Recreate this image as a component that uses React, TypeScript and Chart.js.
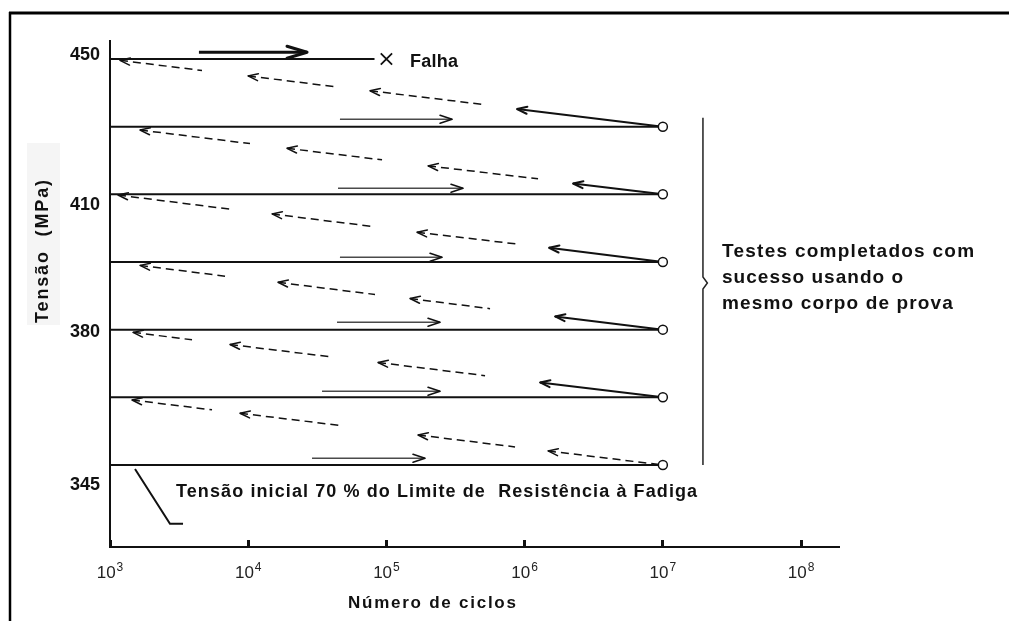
import React, { useEffect, useRef } from 'react';
import { Chart, registerables } from 'chart.js';

Chart.register(...registerables);

const FONT = '"Liberation Sans", Arial, Helvetica, sans-serif';
const INK = '#111111';

// Load steps, numbered from the initial stress level (0) up to the failure level (6)
const stepLevels = [0, 1, 2, 3, 4, 5, 6];
const startCycles = 1e3;
const runOutCycles = 1e7;
const failureCycles = 1e5;
const failureLineEnd = 8.2e4;

// Stress labels on the vertical axis (MPa) and the step position of each label
const stressLabels = [345, 380, 410, 450];
const stressLabelSteps = [-0.3, 1.97, 3.84, 6.06];

// Decades on the cycles axis
const cycleTicks = [1e3, 1e4, 1e5, 1e6, 1e7, 1e8];

// Loading arrows drawn just above each level (level 0 first)
const loadArrowFrom = [28950, 34200, 43900, 46100, 44640, 46100, 4400];
const loadArrowTo = [190200, 244300, 244300, 252600, 358300, 298500, 26640];
const loadArrowStep = [0.1, 1.09, 2.11, 3.07, 4.09, 5.11, 6.1];

// Return paths from the run-out at one level back to the start of the next one,
// as [cycles, step] points, two points per arrow segment
const returnFrom0 = [[1443, 0.96], [5471, 0.815], [8723, 0.765], [46160, 0.584], [169300, 0.443], [852000, 0.267], [1476000, 0.208], [1e7, 0]];
const returnFrom1 = [[1467, 1.96], [3920, 1.85], [7385, 1.78], [39080, 1.6], [86960, 1.515], [517000, 1.32], [1293000, 1.22], [1e7, 1]];
const returnFrom2 = [[1649, 2.95], [6795, 2.79], [16430, 2.7], [82700, 2.52], [148200, 2.46], [561800, 2.31], [1660000, 2.195], [1e7, 2]];
const returnFrom3 = [[1143, 3.99], [7385, 3.78], [14870, 3.71], [82700, 3.52], [166500, 3.44], [926000, 3.26], [1502000, 3.21], [1e7, 3]];
const returnFrom4 = [[1649, 4.95], [10300, 4.75], [19090, 4.68], [92950, 4.51], [200000, 4.42], [1250000, 4.23], [2240000, 4.16], [1e7, 4]];
const returnFrom5 = [[1181, 5.98], [4632, 5.83], [9968, 5.75], [42480, 5.59], [76080, 5.53], [491700, 5.33], [881000, 5.26], [1e7, 5]];
const returnPaths = [returnFrom0, returnFrom1, returnFrom2, returnFrom3, returnFrom4, returnFrom5];
// The segment next to the run-out circle is drawn solid on these paths
const solidLastSegment = [false, true, true, true, true, true];

// Bracket grouping the successful run-outs
const bracketCycles = [1.95e7, 1.95e7, 2.1e7, 1.95e7, 1.95e7];
const bracketSteps = [5.13, 2.78, 2.69, 2.6, 0];

// Leader line for the initial stress note
const leaderCycles = [1517, 2716, 3376];
const leaderSteps = [-0.06, -0.87, -0.87];

function spacedText(ctx: CanvasRenderingContext2D, text: string, x: number, y: number, width: number, font: string) {
  const c = ctx as any;
  ctx.font = font;
  c.letterSpacing = '0px';
  const n = Array.from(text).length;
  const w = ctx.measureText(text).width;
  const sp = n > 1 ? (width - w) / (n - 1) : 0;
  c.letterSpacing = `${sp.toFixed(2)}px`;
  ctx.textAlign = 'left';
  ctx.fillText(text, x, y);
  c.letterSpacing = '0px';
}

const arrowHeads = {
  id: 'arrowHeads',
  afterDatasetsDraw(chart: any) {
    const ctx: CanvasRenderingContext2D = chart.ctx;
    chart.data.datasets.forEach((ds: any, i: number) => {
      if (!ds.arrowAt) return;
      const pts = chart.getDatasetMeta(i).data;
      const tip = ds.arrowAt === 'end' ? pts[pts.length - 1] : pts[0];
      const from = ds.arrowAt === 'end' ? pts[pts.length - 2] : pts[1];
      const ang = Math.atan2(tip.y - from.y, tip.x - from.x);
      const L = ds.arrowLen;
      const H = ds.arrowHalf;
      const bx = tip.x - L * Math.cos(ang);
      const by = tip.y - L * Math.sin(ang);
      const nx = -Math.sin(ang) * H;
      const ny = Math.cos(ang) * H;
      ctx.save();
      ctx.strokeStyle = ds.arrowColor || ds.borderColor;
      ctx.lineWidth = ds.borderWidth;
      ctx.setLineDash([]);
      ctx.lineCap = 'round';
      ctx.lineJoin = 'round';
      ctx.beginPath();
      ctx.moveTo(bx + nx, by + ny);
      ctx.lineTo(tip.x, tip.y);
      ctx.lineTo(bx - nx, by - ny);
      ctx.stroke();
      ctx.restore();
    });
  },
};

const decorations = {
  id: 'decorations',
  beforeDraw(chart: any) {
    const ctx: CanvasRenderingContext2D = chart.ctx;
    ctx.save();
    ctx.fillStyle = '#ffffff';
    ctx.fillRect(0, 0, chart.width, chart.height);
    // frame
    ctx.strokeStyle = '#000';
    ctx.lineWidth = 3;
    ctx.beginPath();
    ctx.moveTo(9, 13);
    ctx.lineTo(chart.width, 13);
    ctx.stroke();
    ctx.lineWidth = 2.5;
    ctx.beginPath();
    ctx.moveTo(10, 12);
    ctx.lineTo(10, chart.height);
    ctx.stroke();
    // pale band behind the vertical title
    ctx.fillStyle = '#f5f5f5';
    ctx.fillRect(27, 143, 33, 182);
    ctx.restore();
  },
  afterDraw(chart: any) {
    const ctx: CanvasRenderingContext2D = chart.ctx;
    const xs = chart.scales.x;
    ctx.save();
    ctx.fillStyle = INK;
    ctx.textBaseline = 'alphabetic';

    // decade labels 10^n
    cycleTicks.forEach((v) => {
      const px = xs.getPixelForValue(v);
      const exp = String(Math.round(Math.log10(v)));
      ctx.font = `17px ${FONT}`;
      const wBase = ctx.measureText('10').width;
      ctx.font = `12px ${FONT}`;
      const wExp = ctx.measureText(exp).width;
      const left = px - (wBase + wExp + 1) / 2;
      ctx.fillStyle = '#222';
      ctx.textAlign = 'left';
      ctx.font = `17px ${FONT}`;
      ctx.fillText('10', left, 578);
      ctx.font = `12px ${FONT}`;
      ctx.fillText(exp, left + wBase + 1, 571);
    });

    ctx.fillStyle = INK;
    // axis titles
    spacedText(ctx, 'Número de ciclos', 348, 608, 168, `bold 17px ${FONT}`);
    ctx.save();
    ctx.translate(48, 251.5);
    ctx.rotate(-Math.PI / 2);
    spacedText(ctx, 'Tensão  (MPa)', -71.5, 0, 143, `bold 18px ${FONT}`);
    ctx.restore();

    // notes
    spacedText(ctx, 'Falha', 410, 67, 48, `bold 18px ${FONT}`);
    spacedText(ctx, 'Testes completados com', 722, 257, 252, `bold 19px ${FONT}`);
    spacedText(ctx, 'sucesso usando o', 722, 283, 181, `bold 19px ${FONT}`);
    spacedText(ctx, 'mesmo corpo de prova', 722, 309, 231, `bold 19px ${FONT}`);
    spacedText(ctx, 'Tensão inicial 70 % do Limite de  Resistência à Fadiga', 176, 497, 521, `bold 18px ${FONT}`);
    ctx.restore();
  },
};

function buildDatasets() {
  const datasets: any[] = [];
  const line = { pointRadius: 0, pointHoverRadius: 0, fill: false, tension: 0 };

  // run-out circles at 10^7 cycles
  datasets.push({
    data: stepLevels.slice(0, 6).map((s) => ({ x: runOutCycles, y: s })),
    showLine: false,
    pointRadius: 4.5,
    pointHoverRadius: 4.5,
    pointBackgroundColor: '#ffffff',
    pointBorderColor: INK,
    pointBorderWidth: 1.5,
    order: -2,
  });
  // failure mark
  datasets.push({
    data: [{ x: failureCycles, y: 6 }],
    showLine: false,
    pointStyle: 'crossRot',
    pointRadius: 8,
    pointHoverRadius: 8,
    pointBorderColor: INK,
    pointBorderWidth: 1.8,
    order: -2,
  });
  // constant-stress runs at each level
  stepLevels.forEach((s) => {
    datasets.push({
      ...line,
      data: [{ x: startCycles, y: s }, { x: s === 6 ? failureLineEnd : runOutCycles, y: s }],
      borderColor: INK,
      borderWidth: 2,
    });
  });
  // loading arrows
  loadArrowStep.forEach((s, i) => {
    const heavy = i === loadArrowStep.length - 1;
    datasets.push({
      ...line,
      data: [{ x: loadArrowFrom[i], y: s }, { x: loadArrowTo[i], y: s }],
      borderColor: heavy ? INK : '#4a4a4a',
      arrowColor: INK,
      borderWidth: heavy ? 3 : 1.6,
      arrowAt: 'end',
      arrowLen: heavy ? 20 : 12,
      arrowHalf: heavy ? 6 : 4,
    });
  });
  // dashed return paths to the next level
  returnPaths.forEach((path, b) => {
    for (let i = 0; i < path.length; i += 2) {
      const solid = i === path.length - 2 && solidLastSegment[b];
      datasets.push({
        ...line,
        data: [{ x: path[i][0], y: path[i][1] }, { x: path[i + 1][0], y: path[i + 1][1] }],
        borderColor: INK,
        borderWidth: solid ? 2 : 1.5,
        borderDash: solid ? [] : [8, 5],
        arrowAt: 'start',
        arrowLen: 10,
        arrowHalf: 3.5,
      });
    }
  });
  // bracket
  datasets.push({
    ...line,
    data: bracketCycles.map((c, i) => ({ x: c, y: bracketSteps[i] })),
    borderColor: '#222',
    borderWidth: 1.5,
  });
  // leader line of the initial stress note
  datasets.push({
    ...line,
    data: leaderCycles.map((c, i) => ({ x: c, y: leaderSteps[i] })),
    borderColor: INK,
    borderWidth: 2,
  });
  return datasets;
}

export default function App() {
  const canvasRef = useRef<HTMLCanvasElement | null>(null);

  useEffect(() => {
    const canvas = canvasRef.current;
    if (!canvas) return;
    const chart = new Chart(canvas, {
      type: 'line',
      data: { datasets: buildDatasets() },
      options: {
        responsive: false,
        devicePixelRatio: 1,
        animation: false,
        events: [],
        layout: { padding: { top: 41, right: 171, bottom: 0, left: 0 } },
        plugins: {
          legend: { display: false },
          tooltip: { enabled: false },
        },
        scales: {
          x: {
            type: 'logarithmic',
            min: 1e3,
            max: 1.85e8,
            afterBuildTicks: (scale: any) => {
              scale.ticks = cycleTicks.map((v) => ({ value: v }));
            },
            afterFit: (scale: any) => {
              scale.height = 74;
            },
            ticks: { display: false },
            grid: {
              display: true,
              drawOnChartArea: false,
              drawTicks: true,
              tickLength: -7,
              lineWidth: 3,
              color: INK,
            },
            border: { display: true, width: 2, color: INK },
          },
          y: {
            type: 'linear',
            min: -1.212,
            max: 6.266,
            afterBuildTicks: (scale: any) => {
              scale.ticks = stressLabelSteps.map((v) => ({ value: v }));
            },
            afterFit: (scale: any) => {
              scale.width = 110;
            },
            ticks: {
              autoSkip: false,
              padding: 10,
              color: INK,
              font: { family: FONT, size: 18, weight: 'bold' },
              callback: (_v: any, i: number) => String(stressLabels[i]),
            },
            grid: { display: true, drawOnChartArea: false, drawTicks: false },
            border: { display: true, width: 2, color: INK },
          },
        },
      } as any,
      plugins: [decorations, arrowHeads],
    });
    return () => chart.destroy();
  }, []);

  return (
    <div style={{ position: 'fixed', left: 0, top: 0, width: 1009, height: 621, background: '#fff' }}>
      <canvas ref={canvasRef} width={1009} height={621} style={{ display: 'block' }} />
    </div>
  );
}
